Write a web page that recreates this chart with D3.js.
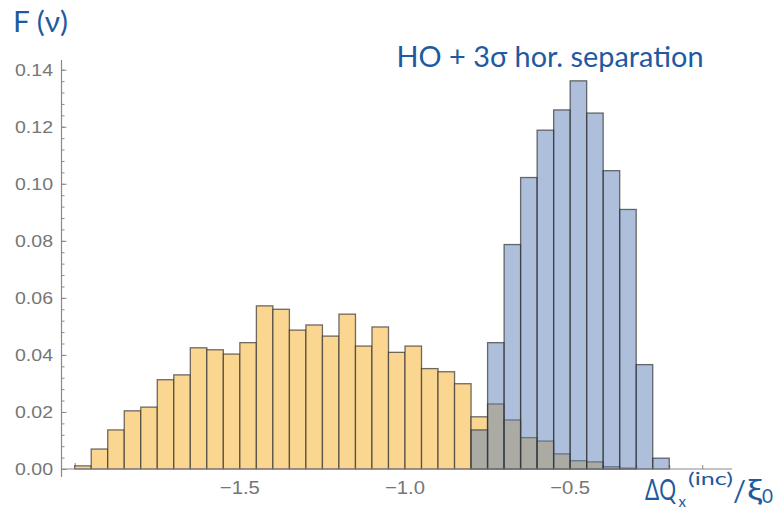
<!DOCTYPE html>
<html>
<head>
<meta charset="utf-8">
<script src="https://cdn.jsdelivr.net/npm/d3@7"></script>
<style>
  html, body { margin: 0; padding: 0; background: #fff; }
  svg { display: block; }
</style>
</head>
<body>
<svg id="chart" width="774" height="513"></svg>
<script>
// Histogram bins: width 0.05 in ΔQx(inc)/ξ0
const binWidth = 0.05;

// Head-on only distribution (orange), bins starting at -2.00
const hoStart = -2.0;
const hoValues = [
  0.0011, 0.0070, 0.0137, 0.0204, 0.0217, 0.0313, 0.0330, 0.0425,
  0.0418, 0.0403, 0.0443, 0.0572, 0.0560, 0.0487, 0.0505, 0.0466,
  0.0543, 0.0431, 0.0498, 0.0409, 0.0431, 0.0352, 0.0341, 0.0299,
  0.0183, 0.0228, 0.0172, 0.0110, 0.0098, 0.0053, 0.0029, 0.0025,
  0.0008, 0.0003
];

// HO + 3σ horizontal separation (blue), bins starting at -0.80
const sepStart = -0.8;
const sepValues = [
  0.0137, 0.0443, 0.0787, 0.1022, 0.1188, 0.1259, 0.1361, 0.1248,
  0.1046, 0.0910, 0.0366, 0.0038
];

// Axis ticks
const yMajorTicks = [0.00, 0.02, 0.04, 0.06, 0.08, 0.10, 0.12, 0.14];
const yTickLabels = ["0.00", "0.02", "0.04", "0.06", "0.08", "0.10", "0.12", "0.14"];
const xMajorTicks = [-2.0, -1.5, -1.0, -0.5];
const xTickLabels = ["", "\u22121.5", "\u22121.0", "\u22120.5"];

const svg = d3.select("#chart");

const x = d3.scaleLinear().domain([-2.04, -0.01]).range([61.5, 732]);
const y = d3.scaleLinear().domain([0, 0.14]).range([469, 69.7]);

const axisColor = "#8a8a8a";
const labelColor = "#767676";
const textBlue = "#1f5aa0";

function toBins(start, values) {
  return values.map((v, i) => ({ x0: start + i * binWidth, x1: start + (i + 1) * binWidth, v }));
}

// x-axis ticks sit behind the bars (upward, into the plot)
const xMinor = d3.range(-20, 0).map(k => k / 10);
const gx = svg.append("g")
  .attr("transform", `translate(0,${y(0)})`)
  .call(d3.axisTop(x).tickValues(xMinor).tickSize(4).tickFormat(""));
gx.select(".domain").remove();
gx.selectAll(".tick line").attr("stroke", axisColor);
const gxMaj = svg.append("g")
  .attr("transform", `translate(0,${y(0)})`)
  .call(d3.axisTop(x).tickValues(xMajorTicks).tickSize(6).tickFormat(""));
gxMaj.select(".domain").remove();
gxMaj.selectAll(".tick line").attr("stroke", axisColor);

// bars
const edge = "rgba(50,50,50,0.7)";
svg.append("g").selectAll("rect")
  .data(toBins(hoStart, hoValues))
  .join("rect")
  .attr("x", d => x(d.x0))
  .attr("width", d => x(d.x1) - x(d.x0))
  .attr("y", d => y(d.v))
  .attr("height", d => y(0) - y(d.v))
  .attr("fill", "rgb(251,214,144)")
  .attr("stroke", edge)
  .attr("stroke-width", 1.3);

svg.append("g").selectAll("rect")
  .data(toBins(sepStart, sepValues))
  .join("rect")
  .attr("x", d => x(d.x0))
  .attr("width", d => x(d.x1) - x(d.x0))
  .attr("y", d => y(d.v))
  .attr("height", d => y(0) - y(d.v))
  .attr("fill", "rgba(92,128,184,0.5)")
  .attr("stroke", edge)
  .attr("stroke-width", 1.3);

// x axis line
svg.append("line")
  .attr("x1", x(-2.04)).attr("x2", x(-0.01))
  .attr("y1", y(0)).attr("y2", y(0))
  .attr("stroke", axisColor).attr("stroke-width", 1.2);

// x tick labels
svg.append("g").selectAll("text")
  .data(xMajorTicks.filter((d, i) => xTickLabels[i] !== ""))
  .join("text")
  .attr("x", d => x(d))
  .attr("y", 494)
  .attr("text-anchor", "middle")
  .attr("font-family", "Liberation Sans, Arial, sans-serif")
  .attr("font-size", 19)
  .attr("textLength", 40).attr("lengthAdjust", "spacingAndGlyphs")
  .attr("fill", labelColor)
  .text(d => xTickLabels[xMajorTicks.indexOf(d)]);

// y axis
const yMinor = d3.range(0, 36).map(k => k * 0.004).filter(v => v <= 0.1401);
const gyMin = svg.append("g")
  .attr("transform", `translate(${x(-2.04)},0)`)
  .call(d3.axisRight(y).tickValues(yMinor).tickSize(3).tickFormat(""));
gyMin.select(".domain").remove();
gyMin.selectAll(".tick line").attr("stroke", axisColor);

const gy = svg.append("g")
  .attr("transform", `translate(${x(-2.04)},0)`)
  .call(d3.axisRight(y).tickValues(yMajorTicks).tickSize(5).tickFormat(""));
gy.select(".domain").remove();
gy.selectAll(".tick line").attr("stroke", axisColor);

svg.append("line")
  .attr("x1", x(-2.04)).attr("x2", x(-2.04))
  .attr("y1", y(-0.0028)).attr("y2", y(0.1434))
  .attr("stroke", axisColor).attr("stroke-width", 1.2);

svg.append("g").selectAll("text")
  .data(yMajorTicks)
  .join("text")
  .attr("x", 53)
  .attr("y", d => y(d) + 6)
  .attr("text-anchor", "end")
  .attr("font-family", "Liberation Sans, Arial, sans-serif")
  .attr("font-size", 17)
  .attr("textLength", 38).attr("lengthAdjust", "spacingAndGlyphs")
  .attr("fill", labelColor)
  .text((d, i) => yTickLabels[i]);

// titles
const titleFont = "Lato, 'Open Sans', sans-serif";
svg.append("text")
  .attr("x", 13).attr("y", 31.5)
  .attr("font-family", titleFont).attr("font-size", 28)
  .attr("textLength", 55).attr("lengthAdjust", "spacingAndGlyphs")
  .attr("fill", textBlue)
  .text("F (\u03bd)");

svg.append("text")
  .attr("x", 396.5).attr("y", 67)
  .attr("font-family", titleFont).attr("font-size", 28)
  .attr("fill", textBlue)
  .attr("textLength", 307).attr("lengthAdjust", "spacingAndGlyphs")
  .text("HO + 3\u03c3 hor. separation");

// axis label ΔQx(inc)/ξ0: each run is squeezed horizontally to its slot
const axisLabelParts = [
  { t: "\u0394Q", px: 645, py: 500, size: 29, len: 31 },
  { t: "x", px: 678.5, py: 507, size: 16, len: 7.5 },
  { t: "(inc)", px: 688, py: 485, size: 18, len: 45 },
  { t: "/", px: 733, py: 501, size: 29, len: 13 },
  { t: "\u03be", px: 747, py: 500, size: 29, len: 15 },
  { t: "0", px: 762, py: 503, size: 19, len: 11 }
];
const labelGroup = svg.append("g")
  .attr("font-family", titleFont)
  .attr("fill", textBlue);
axisLabelParts.forEach(d => {
  const t = labelGroup.append("text")
    .attr("font-size", d.size)
    .text(d.t);
  const natural = t.node().getComputedTextLength() || d.len;
  t.attr("transform", `translate(${d.px},${d.py}) scale(${d.len / natural},1)`);
});
</script>
</body>
</html>
